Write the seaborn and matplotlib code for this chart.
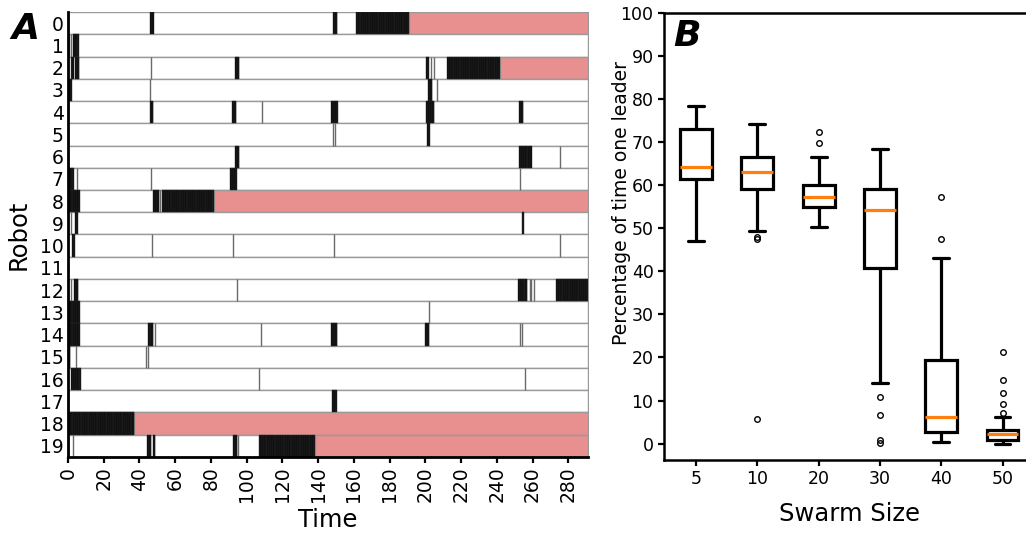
import numpy as np
import pandas as pd
import matplotlib
matplotlib.use("Agg")
import matplotlib.pyplot as plt
import seaborn as sns

# ---------------- Panel A data ----------------
robots = list(range(20))
T_END = 291
time_ticks = list(range(0, 281, 20))

# intervals (start, end) during which the robot is leader (black)
leader_spans = [
    [(46, 48), (148.3, 150.6), (161.2, 191)],
    [(2.8, 6.2)],
    [(1.5, 3.4), (4.1, 6.2), (93.5, 95.7), (200.6, 202.2), (212.2, 241.7)],
    [(0.7, 2.0), (201.7, 203.8)],
    [(45.7, 47.8), (91.8, 94.2), (147.3, 151.2), (200.6, 205.0), (252.6, 254.9)],
    [(201.1, 202.8)],
    [(93.6, 95.7), (252.6, 259.4)],
    [(0, 3.4), (90.8, 94.6)],
    [(0, 6.7), (47.8, 51.1), (52.4, 81.6)],
    [(4.1, 5.4), (253.8, 255.2)],
    [(2.2, 3.9)],
    [],
    [(3.4, 5.4), (252.0, 257.1), (273.2, 291)],
    [(0, 6.7)],
    [(0, 6.7), (44.6, 47.8), (147.4, 150.7), (200.0, 202.1)],
    [(0.2, 1.3)],
    [(1.9, 7.5)],
    [(148.0, 150.4)],
    [(0, 37.1)],
    [(44.2, 46.4), (47.4, 48.9), (92.3, 94.6), (106.6, 138.2)],
]
# thin grey separators (leader changes seen by the robot)
switch_times = [
    [], [0.6, 1.5], [46.4, 203.0, 204.7], [45.7, 206.5], [108.3],
    [148.3, 149.2], [275.5], [4.9, 46.4, 252.8], [51.7], [1.5],
    [46.8, 92.5, 148.6, 275.5], [], [1.5, 94.8, 258.3, 259.0, 260.8], [201.9],
    [48.7, 107.9, 252.8, 253.9], [4.3, 43.8, 44.9], [106.6, 255.6], [], [], [2.8, 95.3],
]
# time at which robot failed (pink), None = never
failure_times = [191, None, 241.7, None, None, None, None, None, 81.6, None,
                 None, None, None, None, None, None, None, None, 37.1, 138.2]

# ---------------- Panel B data ----------------
swarm_sizes = ["5", "10", "20", "30", "40", "50"]
pct_5 = [47.0, 61.3, 64.3, 72.9, 78.4]
pct_10 = [5.8, 47.4, 48.0, 49.3, 59.2, 60.5, 61.7, 62.4, 63.1, 63.8, 64.6, 65.5,
          66.5, 68.0, 69.9, 71.8, 74.2]
pct_20 = [50.3, 52.5, 53.9, 54.8, 55.7, 56.5, 57.3, 58.2, 59.2, 60.1, 66.5, 69.7, 72.2]
pct_30 = [0.2, 0.8, 6.7, 10.8, 14.0, 40.8, 45.0, 48.5, 51.0, 52.8, 54.3, 55.5, 56.6,
          57.5, 58.4, 59.2, 60.5, 62.0, 63.8, 65.9, 68.4]
pct_40 = [0.3, 1.2, 2.0, 2.7, 3.8, 5.0, 6.2, 9.5, 14.0, 19.4, 43.1, 47.6, 57.2]
pct_50 = [0.0, 0.1, 0.3, 0.5, 0.6, 0.75, 0.85, 1.2, 1.5, 1.7, 1.9, 2.05, 2.2, 2.4,
          2.55, 2.7, 2.85, 3.0, 3.15, 6.2, 7.1, 9.2, 11.75, 14.7, 21.2]

# ---------------- Style ----------------
sns.set_style("ticks")
plt.rcParams["font.family"] = ["DejaVu Sans"]
plt.rcParams["axes.edgecolor"] = "black"
plt.rcParams["xtick.color"] = "black"
plt.rcParams["ytick.color"] = "black"
plt.rcParams["text.color"] = "black"
plt.rcParams["axes.labelcolor"] = "black"

fig = plt.figure(figsize=(10.26, 5.36), dpi=100)
axA = fig.add_axes([0.0663, 0.1474, 0.5068, 0.8302])
axB = fig.add_axes([0.6472, 0.1418, 0.361, 0.8345])

PINK = "#e88f8f"
EDGE = "#9a9a9a"

for i in robots:
    f = failure_times[i]
    alive_end = f if f is not None else T_END
    axA.broken_barh([(0, alive_end)], (i - 0.5, 1), facecolors="white",
                    edgecolors=EDGE, linewidth=1.0, zorder=1)
    if f is not None:
        axA.broken_barh([(f, T_END - f)], (i - 0.5, 1), facecolors=PINK,
                        edgecolors=EDGE, linewidth=1.0, zorder=1)
    for s in switch_times[i]:
        axA.vlines(s, i - 0.5, i + 0.5, color="#6a6a6a", linewidth=1.0, zorder=2)
    for (a, b) in leader_spans[i]:
        starts = np.arange(a, b, 1.0)
        segs = [(x0, min(1.0, b - x0)) for x0 in starts]
        axA.broken_barh(segs, (i - 0.5, 1), facecolors="#0b0b0b",
                        edgecolors="#2a2a2a", linewidth=0.3, zorder=3)

axA.set_xlim(0, T_END)
axA.set_ylim(19.5, -0.5)
axA.set_yticks(robots)
axA.set_yticklabels([str(r) for r in robots], fontsize=13.5)
axA.set_xticks(time_ticks)
axA.set_xticklabels([str(t) for t in time_ticks], rotation=90, fontsize=13.5)
axA.tick_params(axis="y", length=0, pad=3)
axA.tick_params(axis="x", length=4, width=1.6, pad=3)
for sp in ["top", "right"]:
    axA.spines[sp].set_visible(False)
for sp in ["left", "bottom"]:
    axA.spines[sp].set_linewidth(2)
    axA.spines[sp].set_zorder(5)
axA.set_xlabel("Time", fontsize=17.5, labelpad=4)
axA.set_ylabel("Robot", fontsize=17.5)
axA.yaxis.set_label_coords(-0.072, 0.5)

# ---------------- Panel B ----------------
groups = [pct_5, pct_10, pct_20, pct_30, pct_40, pct_50]
df = pd.DataFrame({
    "size": np.concatenate([[s] * len(g) for s, g in zip(swarm_sizes, groups)]),
    "pct": np.concatenate(groups),
})
sns.boxplot(data=df, x="size", y="pct", order=swarm_sizes, ax=axB,
            width=0.52, color="white", linecolor="black", linewidth=2.3,
            fliersize=4,
            medianprops=dict(color="#ff7f0e", linewidth=2.3),
            flierprops=dict(marker="o", markerfacecolor="none",
                            markeredgecolor="black", markeredgewidth=1.0))

axB.set_xlim(-0.52, 5.52)
axB.set_ylim(-3.8, 100)
axB.set_yticks(range(0, 101, 10))
axB.tick_params(axis="both", labelsize=12.5, length=4, width=1.6)
for sp in ["top", "left", "bottom"]:
    axB.spines[sp].set_visible(True)
    axB.spines[sp].set_linewidth(1.8)
axB.spines["right"].set_visible(False)
axB.set_xlabel("Swarm Size", fontsize=17.5, labelpad=10)
axB.set_ylabel("Percentage of time one leader", fontsize=13.5)
axB.yaxis.set_label_coords(-0.09, 0.574)

fig.text(0.011, 0.978, "A", fontsize=26, fontweight="bold", fontstyle="italic",
         va="top", ha="left")
axB.text(0.025, 0.985, "B", transform=axB.transAxes, fontsize=26,
         fontweight="bold", fontstyle="italic", va="top", ha="left")

fig.savefig("out.png", dpi=100)
